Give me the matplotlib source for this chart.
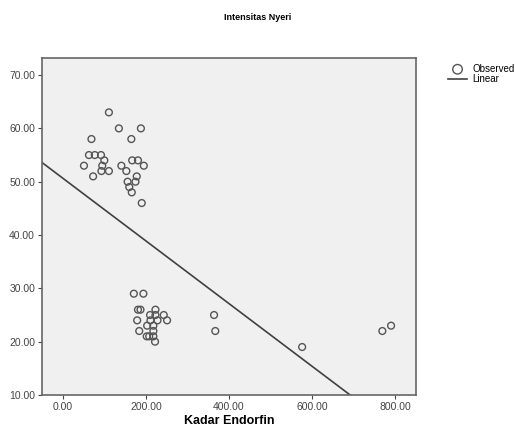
import numpy as np
import matplotlib.pyplot as plt

plt.rcParams['font.family'] = ['Liberation Sans', 'DejaVu Sans']

# Kadar Endorfin (x) vs Intensitas Nyeri (y)
kadar = [111, 135, 188, 69, 165, 63, 77, 92, 100, 51, 95, 93, 111, 73,
         167, 181, 195, 141, 153, 178, 156, 175, 160, 166, 190,
         171, 194, 181, 187, 223, 210, 223, 243, 179, 211, 228, 251,
         203, 218, 184, 218, 202, 208, 218, 222, 364, 367, 576, 769, 790]
nyeri = [63, 60, 60, 58, 58, 55, 55, 55, 54, 53, 53, 52, 52, 51,
         54, 54, 53, 53, 52, 51, 50, 50, 49, 48, 46,
         29, 29, 26, 26, 26, 25, 25, 25, 24, 24, 24, 24,
         23, 23, 22, 22, 21, 21, 21, 20, 25, 22, 19, 22, 23]

# linear fit line
fit_intercept = 50.66
fit_slope = -0.0588

fig = plt.figure(figsize=(5.15, 4.32), dpi=100)
ax = fig.add_axes([42 / 515, 1 - 395 / 432, (416 - 42) / 515, (395 - 58) / 432])
ax.set_facecolor('#f0f0f0')

ax.scatter(kadar, nyeri, s=24, facecolors='none', edgecolors='#555555', linewidths=1.0,
           label='Observed', zorder=3)
xs = np.array([-50, 850])
ax.plot(xs, fit_intercept + fit_slope * xs, color='#404040', lw=1.2, label='Linear', zorder=2)

ax.set_xlim(-50, 850)
ax.set_ylim(10, 73.2)
ax.set_xticks([0, 200, 400, 600, 800])
ax.set_yticks([10, 20, 30, 40, 50, 60, 70])
ax.xaxis.set_major_formatter(plt.FormatStrFormatter('%.2f'))
ax.yaxis.set_major_formatter(plt.FormatStrFormatter('%.2f'))
ax.tick_params(labelsize=7.5, colors='#444444', length=3, width=0.8, pad=2)
for sp in ax.spines.values():
    sp.set_color('#666666')
    sp.set_linewidth(1.2)

ax.set_xlabel('Kadar Endorfin', fontsize=9, fontweight='bold', labelpad=2)
fig.text(258 / 515, 1 - 17 / 432, 'Intensitas Nyeri', fontsize=6.5, fontweight='bold',
         ha='center', va='center')

fig.legend(loc='upper left', bbox_to_anchor=(441 / 515, 1 - 57 / 432), frameon=False,
           fontsize=7, handlelength=2.0, labelspacing=0.05, handletextpad=0.5,
           borderpad=0.2, markerscale=1.4)

fig.savefig('out.png', dpi=100)
